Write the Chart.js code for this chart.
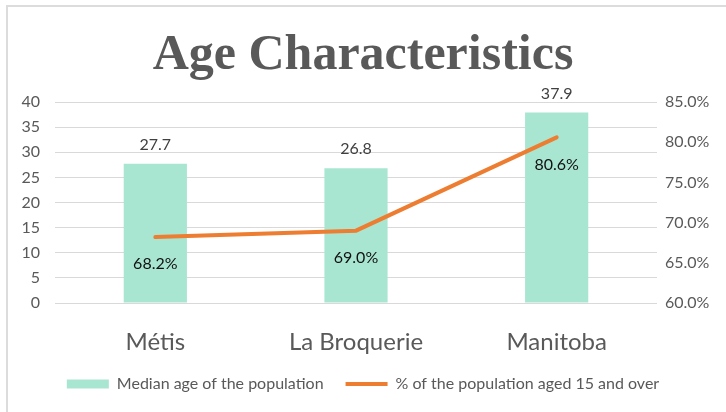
<!DOCTYPE html>
<html>
<head>
<meta charset="utf-8">
<script src="https://cdn.jsdelivr.net/npm/chart.js@4.4.1/dist/chart.umd.min.js"></script>
<style>
    body { margin: 0; background: #fff; }
    #wrap { position: relative; width: 726px; height: 412px; }
    #frame { position: absolute; left: 6px; top: 5px; right: 0; bottom: 0; border-top: 2px solid #dcdcdc; border-left: 2px solid #dcdcdc; }
    canvas { position: absolute; left: 0; top: 0; }
</style>
</head>
<body>
<div id="wrap">
    <div id="frame"></div>
    <canvas id="chartAge" width="726" height="412"></canvas>
</div>
<script>
const categories = ["Métis", "La Broquerie", "Manitoba"];
const medianAge = [27.7, 26.8, 37.9];
const pctAged15Plus = [68.2, 69.0, 80.6];
const leftTicks = [0, 5, 10, 15, 20, 25, 30, 35, 40];
const rightTicks = [60, 65, 70, 75, 80, 85];

const textGray = '#595959';

// draws value labels next to bars and line points
const valueLabels = {
    id: 'valueLabels',
    afterDatasetsDraw(chart) {
        const ctx = chart.ctx;
        ctx.save();
        ctx.font = '16px Lato';
        ctx.textAlign = 'center';
        ctx.textBaseline = 'middle';

        chart.getDatasetMeta(0).data.forEach((bar, i) => {
            ctx.fillStyle = '#404040';
            ctx.fillText(medianAge[i].toFixed(1), bar.x, bar.y - 19);
        });
        chart.getDatasetMeta(1).data.forEach((pt, i) => {
            ctx.fillStyle = '#111';
            ctx.fillText(pctAged15Plus[i].toFixed(1) + '%', pt.x, pt.y + 27);
        });
        ctx.restore();
    }
};

const ctx = document.getElementById("chartAge").getContext('2d');

new Chart(ctx, {
    data: {
        labels: categories,
        datasets: [{
            type: 'bar',
            label: "Median age of the population",
            data: medianAge,
            backgroundColor: '#a9e6d2',
            borderWidth: 0,
            categoryPercentage: 1,
            barPercentage: 0.315,
            pointStyle: 'rect',
            yAxisID: 'y',
            order: 2
        }, {
            type: 'line',
            label: "% of the population aged 15 and over",
            data: pctAged15Plus,
            borderColor: '#ed7d31',
            backgroundColor: '#ed7d31',
            borderWidth: 4,
            pointRadius: 0,
            pointStyle: 'line',
            borderCapStyle: 'round',
            yAxisID: 'y1',
            order: 1
        }]
    },
    options: {
        responsive: false,
        animation: false,
        layout: { padding: { left: 0, right: 0, top: 26, bottom: 10 } },
        scales: {
            x: {
                grid: { display: false },
                border: { display: false },
                ticks: { color: textGray, font: { family: 'Lato', size: 24, lineHeight: 1 }, padding: 19 },
                afterFit: (scale) => { scale.height = 51; }
            },
            y: {
                position: 'left',
                min: 0,
                max: 40,
                afterBuildTicks: (scale) => { scale.ticks = leftTicks.map(v => ({ value: v })); },
                grid: { color: '#d9d9d9', drawTicks: false },
                border: { display: false },
                ticks: { color: textGray, font: { family: 'Lato', size: 16 }, padding: 15 },
                afterFit: (scale) => { scale.width = 55; }
            },
            y1: {
                position: 'right',
                min: 60,
                max: 85,
                afterBuildTicks: (scale) => { scale.ticks = rightTicks.map(v => ({ value: v })); },
                grid: { display: false, drawTicks: false },
                border: { display: false },
                ticks: {
                    color: textGray,
                    font: { family: 'Lato', size: 16 },
                    padding: 8,
                    callback: (v) => v.toFixed(1) + '%'
                },
                afterFit: (scale) => { scale.width = 69; }
            }
        },
        plugins: {
            title: {
                display: true,
                text: "Age Characteristics",
                color: textGray,
                font: { family: 'Liberation Serif', size: 50, weight: 'bold' },
                padding: { top: 0, bottom: 16 }
            },
            legend: {
                position: 'bottom',
                labels: {
                    color: textGray,
                    font: { family: 'Lato', size: 16 },
                    usePointStyle: true,
                    pointStyleWidth: 42,
                    boxHeight: 9,
                    padding: 22,
                    sort: (a, b) => a.datasetIndex - b.datasetIndex
                }
            },
            tooltip: { enabled: false }
        }
    },
    plugins: [valueLabels]
});
</script>
</body>
</html>
